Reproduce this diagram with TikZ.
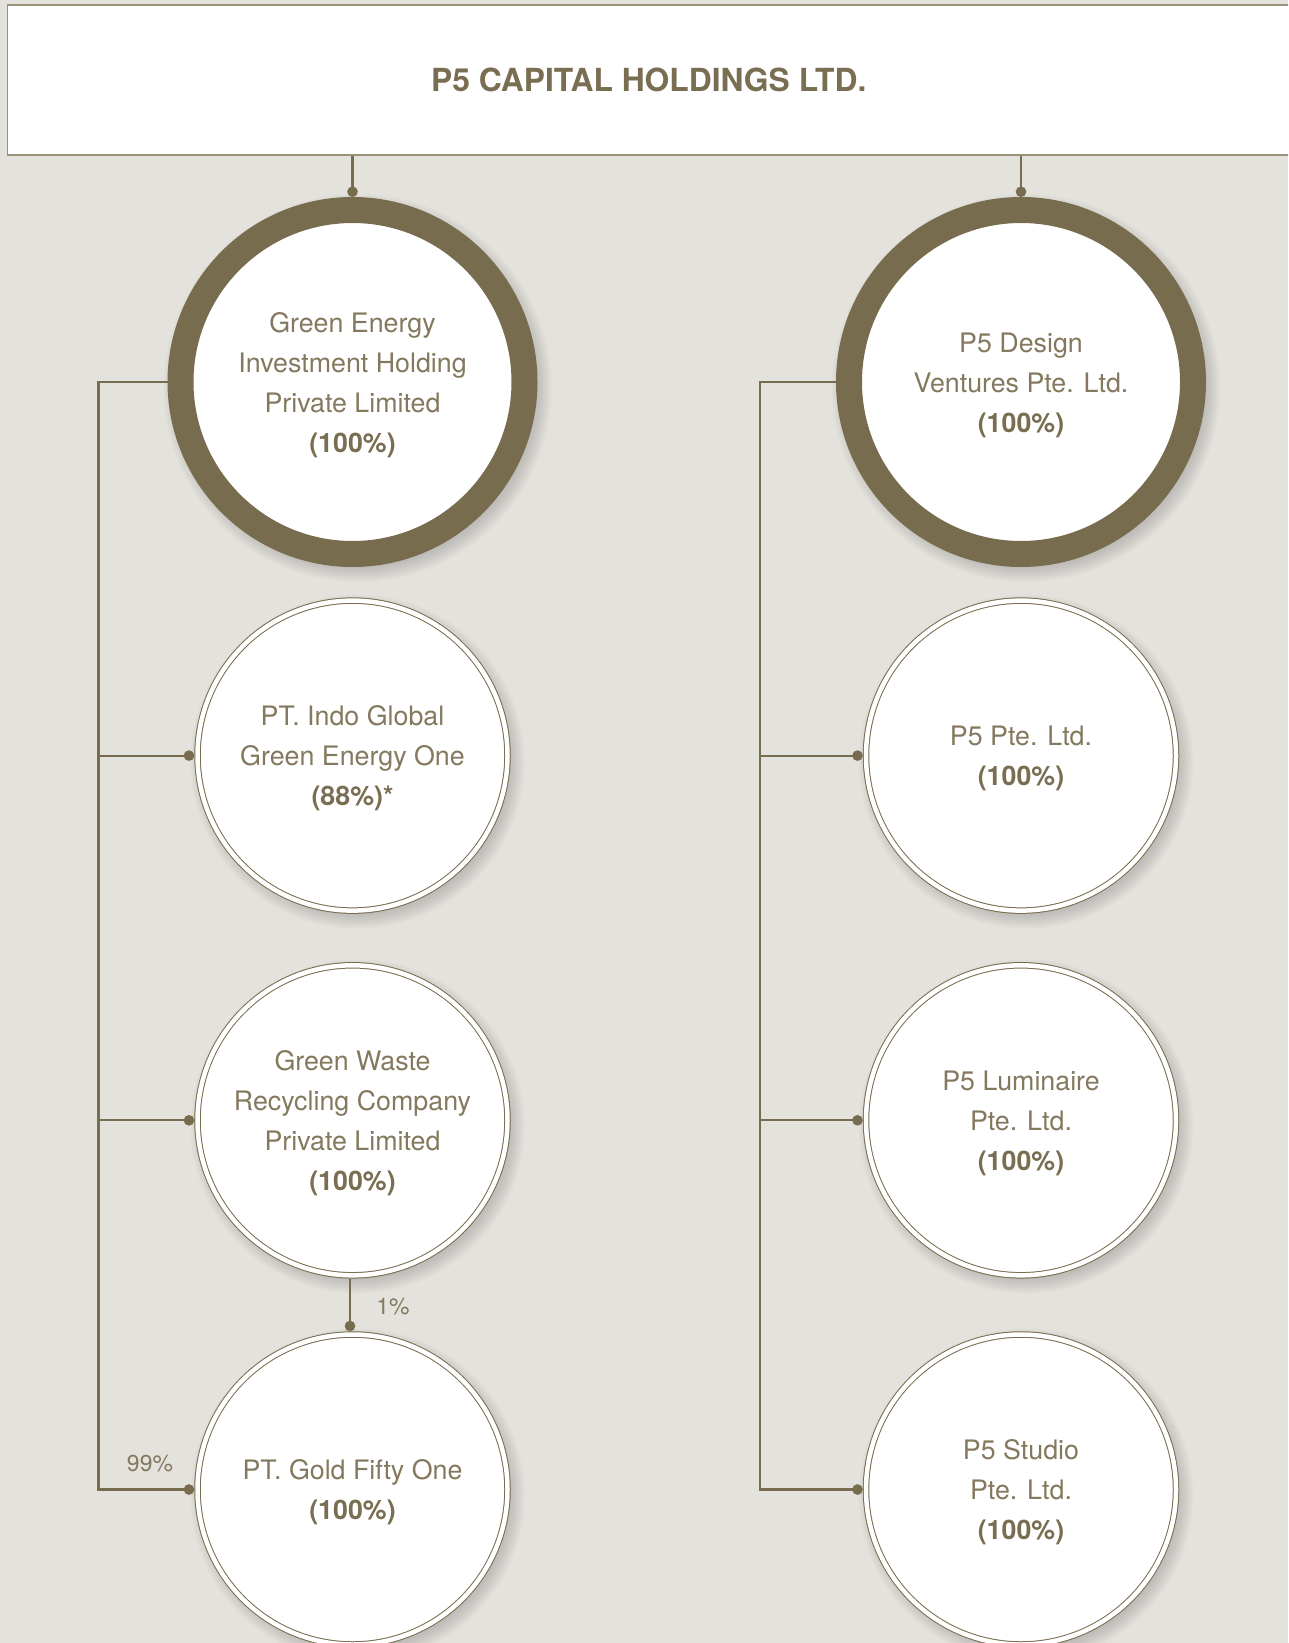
\documentclass[tikz,border=0pt]{standalone}
\usepackage{fontspec}
\setmainfont{TeX Gyre Heros}
\usetikzlibrary{arrows.meta}
\definecolor{bg}{RGB}{227,226,221}
\definecolor{ring}{RGB}{120,108,78}
\definecolor{txt}{RGB}{122,110,82}
\definecolor{txtl}{RGB}{132,121,94}
\definecolor{boxline}{RGB}{155,146,122}
\begin{document}
\begin{tikzpicture}[x=1pt,y=-1pt,
 bigc/.style={circle, draw=ring, line width=26pt, fill=white, minimum size=344pt, inner sep=0pt},
 smallc/.style={circle, draw=ring, line width=1pt, double=white, double distance=4.5pt, fill=white, minimum size=310pt, inner sep=0pt, outer sep=3.25pt},
 ctext/.style={text=txtl, align=center, inner sep=0pt, font=\fontsize{26.8}{40}\selectfont},
 conn/.style={draw=ring, line width=2.2pt},
 dotend/.style={-{Circle[length=10.5pt,width=10.5pt]}},
 pct/.style={text=txtl, font=\fontsize{23}{28}\selectfont, inner sep=0pt},
 topbox/.style={draw=boxline, line width=1.6pt, fill=white, minimum width=1282.5pt, minimum height=150pt, inner sep=0pt, text=txt, font=\fontsize{31.8}{38}\selectfont\bfseries}]
\useasboundingbox (0,0) rectangle (1288,1643);
\clip (0,0) rectangle (1288,1643);
\fill[bg] (0,0) rectangle (1288,1643);

\coordinate (cGEI) at (352.5,382);
\coordinate (cPT1) at (352.5,755.6);
\coordinate (cGW) at (352.5,1120.3);
\coordinate (cGOLD) at (352.5,1489.5);
\coordinate (cP5D) at (1021,382);
\coordinate (cP5) at (1021,755.6);
\coordinate (cLUM) at (1021,1120.3);
\coordinate (cSTU) at (1021,1489.5);

\foreach \c/\r in {cGEI/185,cP5D/185,cPT1/158,cGW/158,cGOLD/158,cP5/158,cLUM/158,cSTU/158}{
  \foreach \k in {0,...,7}{
    \fill[black, opacity=0.02] ([shift={(5,6)}]\c) circle[radius=\r+9-2*\k];
  }
}

\node[topbox] (top) at (648.75,80) {P5 CAPITAL HOLDINGS LTD.};

\node[bigc] (gei) at (cGEI) {};
\node[smallc] (pt1) at (cPT1) {};
\node[smallc] (gw) at (cGW) {};
\node[smallc] (gold) at (cGOLD) {};
\node[bigc] (p5d) at (cP5D) {};
\node[smallc] (p5) at (cP5) {};
\node[smallc] (lum) at (cLUM) {};
\node[smallc] (stu) at (cSTU) {};

\node[ctext] (geiT) at ([yshift=-3pt]gei.center) {Green Energy\\Investment Holding\\Private Limited\\\textcolor{txt}{\textbf{(100\%)}}};
\node[ctext] (pt1T) at ([yshift=-3pt]pt1.center) {PT. Indo Global\\Green Energy One\\\textcolor{txt}{\textbf{(88\%)*}}};
\node[ctext] (gwT) at ([yshift=-3pt]gw.center) {Green Waste\\Recycling Company\\Private Limited\\\textcolor{txt}{\textbf{(100\%)}}};
\node[ctext] (goldT) at ([yshift=-3pt]gold.center) {PT. Gold Fifty One\\\textcolor{txt}{\textbf{(100\%)}}};
\node[ctext] (p5dT) at ([yshift=-3pt]p5d.center) {P5 Design\\Ventures Pte. Ltd.\\\textcolor{txt}{\textbf{(100\%)}}};
\node[ctext] (p5T) at ([yshift=-3pt]p5.center) {P5 Pte. Ltd.\\\textcolor{txt}{\textbf{(100\%)}}};
\node[ctext] (lumT) at ([yshift=-3pt]lum.center) {P5 Luminaire\\Pte. Ltd.\\\textcolor{txt}{\textbf{(100\%)}}};
\node[ctext] (stuT) at ([yshift=-3pt]stu.center) {P5 Studio\\Pte. Ltd.\\\textcolor{txt}{\textbf{(100\%)}}};

\coordinate (LB) at (98.5,1489.5);
\coordinate (RB) at (760,1489.5);

\draw[conn,dotend] (top.south -| gei.north) -- (gei.north);
\draw[conn,dotend] (top.south -| p5d.north) -- (p5d.north);

\draw[conn,dotend] (gei.west) -| (LB) -- (gold.west);
\draw[conn,dotend] (pt1.west -| LB) -- (pt1.west);
\draw[conn,dotend] (gw.west -| LB) -- (gw.west);
\draw[conn,dotend] ([xshift=-2.5pt]gw.south) -- ([xshift=-2.5pt]gold.north);

\draw[conn,dotend] (p5d.west) -| (RB) -- (stu.west);
\draw[conn,dotend] (p5.west -| RB) -- (p5.west);
\draw[conn,dotend] (lum.west -| RB) -- (lum.west);

\node[pct] (l1) at (393,1307) {1\%};
\node[pct] (l99) at (150,1464) {99\%};
\end{tikzpicture}
\end{document}
